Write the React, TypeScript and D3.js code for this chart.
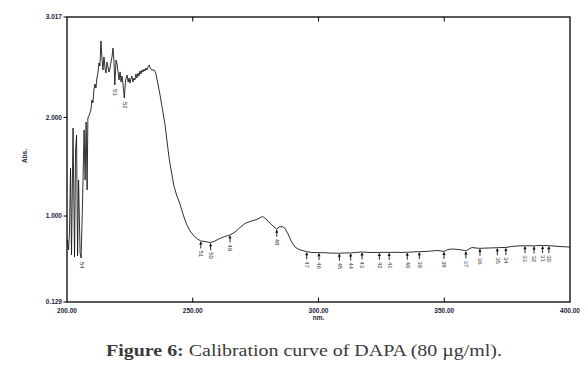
import React from 'react';
import * as d3 from 'd3';

// spectrum (nm, Abs.)
const wavelengths = [
  200.2, 200.6, 201.0, 201.4, 201.8, 202.4, 203.0, 203.4, 203.8, 204.2, 204.6, 205.2, 205.6, 206.2,
  206.8, 207.2, 207.6, 208.0, 208.3, 208.7, 209.1, 209.5, 209.9, 210.3, 210.7, 211.1, 211.5, 211.9,
  212.3, 212.7, 213.1, 213.5, 213.9, 214.3, 214.7, 215.1, 215.5, 215.9, 216.3, 216.7, 217.1, 217.5,
  217.9, 218.3, 218.7, 219.0, 219.5, 219.9, 220.3, 220.7, 221.1, 221.5, 221.9, 222.3, 222.8, 223.3,
  223.9, 224.3, 224.7, 225.0, 225.4, 225.8, 226.2, 226.6, 227.0, 227.4, 227.8, 228.2, 228.6, 229.0,
  229.4, 229.8, 230.2, 230.6, 231.0, 231.4, 231.8, 232.2, 232.7, 233.2, 233.8, 234.6, 235.2, 236.0,
  237.0, 238.0, 239.0, 239.8, 240.6, 241.6, 242.5, 243.7, 244.9, 246.1, 247.5, 248.9, 250.5, 251.9,
  253.2, 254.9, 257.1, 258.8, 260.8, 262.8, 264.8, 266.8, 268.8, 270.8, 272.8, 274.8, 276.3, 277.7,
  278.7, 279.9, 281.5, 283.4, 284.3, 285.5, 286.7, 287.9, 289.3, 290.7, 292.2, 293.8, 295.3, 297.4,
  300.2, 302.6, 305.4, 308.3, 310.5, 312.8, 314.9, 317.3, 320.5, 324.2, 326.0, 328.1, 330.4, 332.8,
  335.3, 337.6, 340.1, 342.3, 345.1, 347.5, 349.9, 351.5, 353.5, 355.5, 357.1, 358.6, 359.8, 361.0,
  362.6, 364.2, 367.4, 371.1, 372.6, 374.5, 376.9, 379.3, 382.1, 384.1, 385.7, 387.3, 389.1, 391.6,
  394.0, 396.8, 400.0,
];
const absorbance = [
  0.757, 0.656, 0.838, 1.487, 0.605, 1.892, 0.585, 1.669, 1.821, 0.595, 1.365, 0.626, 0.575, 1.163,
  1.872, 1.365, 1.953, 1.264, 1.994, 2.014, 2.044, 2.075, 2.176, 2.146, 2.277, 2.338, 2.297, 2.399,
  2.449, 2.551, 2.521, 2.774, 2.601, 2.480, 2.612, 2.500, 2.449, 2.561, 2.510, 2.460, 2.500, 2.561,
  2.612, 2.703, 2.561, 2.328, 2.581, 2.541, 2.460, 2.379, 2.460, 2.358, 2.419, 2.328, 2.196, 2.379,
  2.429, 2.358, 2.399, 2.348, 2.389, 2.419, 2.358, 2.399, 2.379, 2.439, 2.399, 2.449, 2.419, 2.470,
  2.439, 2.480, 2.460, 2.490, 2.470, 2.500, 2.480, 2.510, 2.531, 2.490, 2.480, 2.480, 2.460, 2.358,
  2.227, 2.075, 1.923, 1.750, 1.588, 1.436, 1.305, 1.203, 1.122, 1.021, 0.919, 0.849, 0.798, 0.767,
  0.747, 0.742, 0.730, 0.747, 0.773, 0.793, 0.808, 0.838, 0.884, 0.925, 0.945, 0.960, 0.975, 0.996,
  0.980, 0.950, 0.909, 0.866, 0.889, 0.894, 0.874, 0.818, 0.737, 0.686, 0.661, 0.649, 0.639, 0.631,
  0.629, 0.628, 0.624, 0.623, 0.626, 0.626, 0.631, 0.636, 0.631, 0.631, 0.633, 0.631, 0.633, 0.631,
  0.633, 0.636, 0.639, 0.641, 0.646, 0.651, 0.641, 0.661, 0.666, 0.661, 0.656, 0.646, 0.666, 0.681,
  0.676, 0.673, 0.676, 0.679, 0.681, 0.681, 0.692, 0.697, 0.699, 0.699, 0.697, 0.701, 0.701, 0.700,
  0.695, 0.690, 0.686,
];

// picked peaks/valleys
const peakNumbers = [54, 53, 52, 51, 50, 49, 48, 47, 46, 45, 44, 43, 42, 41, 40, 39, 38, 37, 36, 35, 34, 33, 32, 31, 30];
const peakWavelengths = [205.6, 219.0, 222.8, 253.2, 257.1, 264.8, 283.4, 295.3, 300.2, 308.3, 312.8, 317.3, 324.2, 328.1,
  335.3, 340.1, 349.9, 358.6, 364.2, 371.1, 374.5, 382.1, 385.7, 389.1, 391.6];
const peakAbs = [0.575, 2.328, 2.196, 0.747, 0.730, 0.808, 0.866, 0.639, 0.629, 0.623, 0.626, 0.636, 0.631, 0.631,
  0.633, 0.639, 0.641, 0.646, 0.673, 0.679, 0.681, 0.699, 0.697, 0.701, 0.700];

const xTicks = [200, 250, 300, 350, 400];
const yTicks = [0.129, 1.0, 2.0, 3.017];

const W = 588;
const H = 371;
const left = 67, right = 570, top = 17, bottom = 302;

const App: React.FC = () => {
  const x = d3.scaleLinear().domain([200, 400]).range([left, right]);
  const y = d3.scaleLinear().domain([0.129, 3.017]).range([bottom, top]);

  const line = d3.line<number>()
    .x((_, i) => x(wavelengths[i]))
    .y(d => y(d));

  const axisFont = 'Arial, "Liberation Sans", sans-serif';

  return (
    <svg width={W} height={H} viewBox={`0 0 ${W} ${H}`}
      style={{ position: 'absolute', left: 0, top: 0, background: '#fff' }}>
      <path d={line(absorbance) || ''} fill="none" stroke="#1a1a1a" strokeWidth={0.9} strokeLinejoin="round" />

      {/* peak markers */}
      {peakNumbers.map((n, i) => {
        const px = x(peakWavelengths[i]);
        const py = y(peakAbs[i]);
        const arrow = peakWavelengths[i] > 240;
        const labelY = arrow ? py + 9.5 : py + 4;
        return (
          <g key={n}>
            {arrow && (
              <>
                <line x1={px} x2={px} y1={py + 1} y2={py + 7.5} stroke="#111" strokeWidth={0.9} />
                <path d={`M${px - 1.6},${py + 3.5} L${px},${py + 0.5} L${px + 1.6},${py + 3.5} Z`} fill="#111" />
              </>
            )}
            <text transform={`translate(${px},${labelY}) rotate(90)`} fontSize={6} fontFamily={axisFont}
              dominantBaseline="middle" fill={n === 37 ? '#2a3f8f' : '#333'}>{n}</text>
          </g>
        );
      })}

      {/* frame */}
      <rect x={left} y={top} width={right - left} height={bottom - top} fill="none" stroke="#000" strokeWidth={1.3} />

      {xTicks.slice(1, -1).map(t => (
        <g key={t}>
          <line x1={x(t)} x2={x(t)} y1={bottom} y2={bottom - 4.5} stroke="#000" strokeWidth={1} />
          <line x1={x(t)} x2={x(t)} y1={top} y2={top + 4.5} stroke="#000" strokeWidth={1} />
        </g>
      ))}
      {xTicks.map(t => (
        <text key={t} x={x(t)} y={313} textAnchor="middle" fontSize={6.5} fontWeight="bold"
          fontFamily={axisFont} fill="#1c1c3a">{t.toFixed(2)}</text>
      ))}
      <text x={x(300)} y={320} textAnchor="middle" fontSize={6.5} fontWeight="bold" fontFamily={axisFont} fill="#1c1c3a">nm.</text>

      {yTicks.map(t => (
        <g key={t}>
          <line x1={left - 3.5} x2={left} y1={y(t)} y2={y(t)} stroke="#000" strokeWidth={1} />
          <text x={left - 5} y={y(t)} dy="0.35em" textAnchor="end" fontSize={6.5} fontWeight="bold"
            fontFamily={axisFont} fill="#1c1c3a">{t.toFixed(3)}</text>
        </g>
      ))}
      <text transform={`translate(27,156) rotate(-90)`} textAnchor="middle" fontSize={6.5} fontWeight="bold"
        fontFamily={axisFont} fill="#1c1c3a">Abs.</text>

      {/* caption */}
      <text x={106} y={356} fontSize={16} fontFamily='"Liberation Serif", "DejaVu Serif", serif' fill="#3a3a3a"
        textLength={396} lengthAdjust="spacingAndGlyphs">
        <tspan fontWeight="bold">Figure 6:</tspan>
        <tspan> Calibration curve of DAPA (80 µg/ml).</tspan>
      </text>
    </svg>
  );
};

export default App;
